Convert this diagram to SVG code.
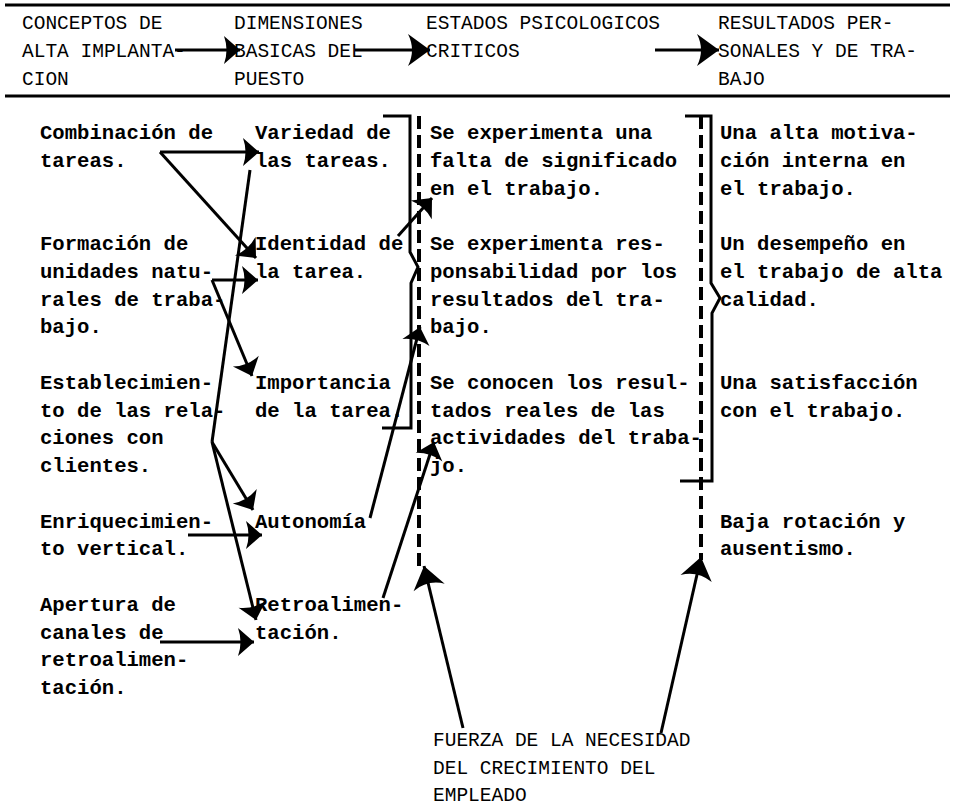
<svg xmlns="http://www.w3.org/2000/svg" width="955" height="807" viewBox="0 0 955 807">
<style>
.h{font-family:"Liberation Mono","DejaVu Sans Mono",monospace;font-size:19.5px;fill:#000}
.t{font-family:"Liberation Mono","DejaVu Sans Mono",monospace;font-size:20.6px;font-weight:bold;fill:#000}
.ln{stroke:#000;stroke-width:3;fill:none}
.dash{stroke:#000;stroke-width:4;fill:none;stroke-dasharray:13 6}
</style>
<defs>
<marker id="arr" markerUnits="userSpaceOnUse" orient="auto" refX="0" refY="0" markerWidth="30" markerHeight="30" overflow="visible">
<path d="M0,0 L-16,-14 Q-11,0 -16,14 Z" fill="#000"/>
</marker>
<marker id="arrL" markerUnits="userSpaceOnUse" orient="auto" refX="0" refY="0" markerWidth="40" markerHeight="40" overflow="visible">
<path d="M0,0 L-22,-16 Q-14,0 -22,16 Z" fill="#000"/>
</marker>
</defs>
<rect width="955" height="807" fill="#fff"/>
<g id="header-rules">
<line x1="5" y1="5" x2="950" y2="5" class="ln"/>
<line x1="5" y1="96" x2="950" y2="96" class="ln"/>
</g>
<g id="h-conceptos">
<text class="h" x="22" y="29">CONCEPTOS DE</text>
<text class="h" x="22" y="57">ALTA IMPLANTA-</text>
<text class="h" x="22" y="85">CION</text>
</g>
<g id="h-dimensiones">
<text class="h" x="234" y="29">DIMENSIONES</text>
<text class="h" x="234" y="57">BASICAS DEL</text>
<text class="h" x="234" y="85">PUESTO</text>
</g>
<g id="h-estados">
<text class="h" x="426" y="29">ESTADOS PSICOLOGICOS</text>
<text class="h" x="426" y="57">CRITICOS</text>
</g>
<g id="h-resultados">
<text class="h" x="718" y="29">RESULTADOS PER-</text>
<text class="h" x="718" y="57">SONALES Y DE TRA-</text>
<text class="h" x="718" y="85">BAJO</text>
</g>
<g id="combinacion">
<text class="t" x="40" y="139">Combinación de</text>
<text class="t" x="40" y="167">tareas.</text>
</g>
<g id="formacion">
<text class="t" x="40" y="250">Formación de</text>
<text class="t" x="40" y="278">unidades natu-</text>
<text class="t" x="40" y="306">rales de traba-</text>
<text class="t" x="40" y="333">bajo.</text>
</g>
<g id="establecimiento">
<text class="t" x="40" y="389">Establecimien-</text>
<text class="t" x="40" y="417">to de las rela-</text>
<text class="t" x="40" y="444">ciones con</text>
<text class="t" x="40" y="472">clientes.</text>
</g>
<g id="enriquecimiento">
<text class="t" x="40" y="528">Enriquecimien-</text>
<text class="t" x="40" y="555">to vertical.</text>
</g>
<g id="apertura">
<text class="t" x="40" y="611">Apertura de</text>
<text class="t" x="40" y="639">canales de</text>
<text class="t" x="40" y="666">retroalimen-</text>
<text class="t" x="40" y="694">tación.</text>
</g>
<g id="variedad">
<text class="t" x="255" y="139">Variedad de</text>
<text class="t" x="255" y="167">las tareas.</text>
</g>
<g id="identidad">
<text class="t" x="255" y="250">Identidad de</text>
<text class="t" x="255" y="278">la tarea.</text>
</g>
<g id="importancia">
<text class="t" x="255" y="389">Importancia</text>
<text class="t" x="255" y="417">de la tarea.</text>
</g>
<g id="autonomia">
<text class="t" x="255" y="528">Autonomía</text>
</g>
<g id="retroalimentacion">
<text class="t" x="255" y="611">Retroalimen-</text>
<text class="t" x="255" y="639">tación.</text>
</g>
<g id="significado">
<text class="t" x="430" y="139">Se experimenta una</text>
<text class="t" x="430" y="167">falta de significado</text>
<text class="t" x="430" y="195">en el trabajo.</text>
</g>
<g id="responsabilidad">
<text class="t" x="430" y="250">Se experimenta res-</text>
<text class="t" x="430" y="278">ponsabilidad por los</text>
<text class="t" x="430" y="306">resultados del tra-</text>
<text class="t" x="430" y="333">bajo.</text>
</g>
<g id="conocimiento">
<text class="t" x="430" y="389">Se conocen los resul-</text>
<text class="t" x="430" y="417">tados reales de las</text>
<text class="t" x="430" y="444">actividades del traba-</text>
<text class="t" x="430" y="472">jo.</text>
</g>
<g id="motivacion">
<text class="t" x="720" y="139">Una alta motiva-</text>
<text class="t" x="720" y="167">ción interna en</text>
<text class="t" x="720" y="195">el trabajo.</text>
</g>
<g id="desempeno">
<text class="t" x="720" y="250">Un desempeño en</text>
<text class="t" x="720" y="278">el trabajo de alta</text>
<text class="t" x="720" y="306">calidad.</text>
</g>
<g id="satisfaccion">
<text class="t" x="720" y="389">Una satisfacción</text>
<text class="t" x="720" y="417">con el trabajo.</text>
</g>
<g id="rotacion">
<text class="t" x="720" y="528">Baja rotación y</text>
<text class="t" x="720" y="555">ausentismo.</text>
</g>
<g id="fuerza">
<text class="h" x="433" y="746">FUERZA DE LA NECESIDAD</text>
<text class="h" x="433" y="774">DEL CRECIMIENTO DEL</text>
<text class="h" x="433" y="801">EMPLEADO</text>
</g>
<g id="connectors">
<line x1="175" y1="50" x2="240" y2="50" class="ln" marker-end="url(#arr)"/>
<line x1="355" y1="50" x2="430" y2="50" class="ln" marker-end="url(#arrL)"/>
<line x1="655" y1="50" x2="719" y2="50" class="ln" marker-end="url(#arrL)"/>
<line x1="160" y1="152" x2="259" y2="152" class="ln" marker-end="url(#arr)"/>
<line x1="160" y1="152" x2="256" y2="258" class="ln" marker-end="url(#arr)"/>
<line x1="212" y1="280" x2="258" y2="280" class="ln" marker-end="url(#arr)"/>
<line x1="212" y1="280" x2="252" y2="376" class="ln" marker-end="url(#arr)"/>
<line x1="212" y1="442" x2="250" y2="170" class="ln"/>
<line x1="212" y1="442" x2="253" y2="510" class="ln" marker-end="url(#arr)"/>
<line x1="212" y1="442" x2="256" y2="620" class="ln" marker-end="url(#arr)"/>
<line x1="188" y1="535" x2="262" y2="535" class="ln" marker-end="url(#arr)"/>
<line x1="160" y1="642" x2="254" y2="642" class="ln" marker-end="url(#arr)"/>
<path d="M383,116 H410 V252 L418,267 L411,283 V428 H382" class="ln"/>
<line x1="419" y1="116" x2="419" y2="570" class="dash"/>
<line x1="398" y1="236" x2="432" y2="198" class="ln" marker-end="url(#arr)"/>
<line x1="370" y1="518" x2="420" y2="327" class="ln" marker-end="url(#arr)"/>
<line x1="383" y1="598" x2="434" y2="442" class="ln" marker-end="url(#arr)"/>
<line x1="463" y1="728" x2="424" y2="566" class="ln" marker-end="url(#arrL)"/>
<path d="M685,116 H711 V283 L720,298 L712,313 V481 H680" class="ln"/>
<line x1="701" y1="116" x2="701" y2="560" class="dash"/>
<line x1="661" y1="733" x2="701" y2="557" class="ln" marker-end="url(#arrL)"/>
</g>
</svg>
